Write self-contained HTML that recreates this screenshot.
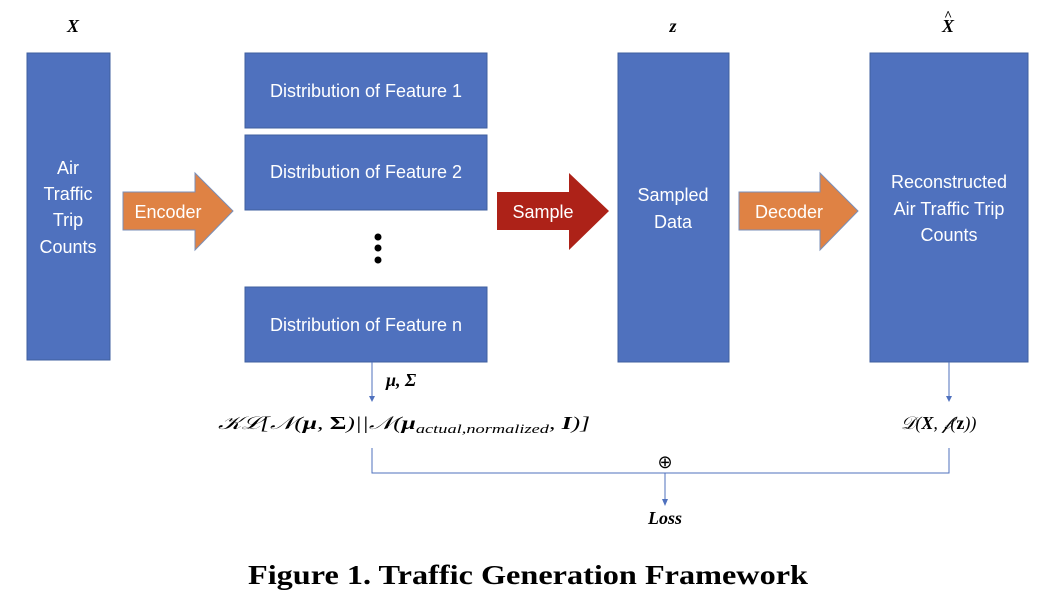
<!DOCTYPE html>
<html><head><meta charset="utf-8"><style>
html,body{margin:0;padding:0;background:#fff;width:1060px;height:616px;overflow:hidden}
svg{display:block}
.w{font-family:"Liberation Sans",sans-serif;font-size:18px;fill:#fff}
.m{font-family:"Liberation Serif",serif;font-size:18px;fill:#000}
</style></head><body>
<svg width="1060" height="616" viewBox="0 0 1060 616" xmlns="http://www.w3.org/2000/svg">
<g fill="#4f71be" stroke="#3f5f9f" stroke-width="1">
<rect x="27" y="53" width="83" height="307"/>
<rect x="245" y="53" width="242" height="75"/>
<rect x="245" y="135" width="242" height="75"/>
<rect x="245" y="287" width="242" height="75"/>
<rect x="618" y="53" width="111" height="309"/>
<rect x="870" y="53" width="158" height="309"/>
</g>
<polygon points="123,192 195,192 195,173 233,211 195,250 195,230 123,230" fill="#df8244" stroke="#7a8fb8" stroke-width="1"/>
<polygon points="497,192 569,192 569,173 609,211 569,250 569,230 497,230" fill="#ad2218"/>
<polygon points="739,192 820,192 820,173 858,211 820,250 820,230 739,230" fill="#df8244" stroke="#7a8fb8" stroke-width="1"/>
<circle cx="378" cy="237" r="3.5" fill="#000"/><circle cx="378" cy="248" r="3.5" fill="#000"/><circle cx="378" cy="260" r="3.5" fill="#000"/>
<g class="w" text-anchor="middle">
<text x="68" y="174">Air</text><text x="68" y="200">Traffic</text><text x="68" y="226">Trip</text><text x="68" y="253">Counts</text>
<text x="366" y="97">Distribution of Feature 1</text>
<text x="366" y="178">Distribution of Feature 2</text>
<text x="366" y="331">Distribution of Feature n</text>
<text x="168" y="218">Encoder</text>
<text x="543" y="218">Sample</text>
<text x="789" y="218">Decoder</text>
<text x="673" y="201">Sampled</text><text x="673" y="228">Data</text>
<text x="949" y="188">Reconstructed</text><text x="949" y="215">Air Traffic Trip</text><text x="949" y="241">Counts</text>
</g>
<g class="m" font-weight="bold" font-style="italic" text-anchor="middle">
<text x="73" y="32">X</text>
<text x="673" y="32">z</text>
<text x="948" y="32">X</text>
<text x="948" y="20" font-size="14">^</text>
</g>
<g stroke="#4f71be" stroke-width="1" fill="none">
<line x1="372" y1="362" x2="372" y2="398"/>
<line x1="949" y1="362" x2="949" y2="398"/>
<polyline points="372,448 372,473 949,473 949,448"/>
<line x1="665" y1="473" x2="665" y2="502"/>
</g>
<g fill="#4f71be">
<polygon points="369,396 375,396 372,402"/>
<polygon points="946,396 952,396 949,402"/>
<polygon points="662,499 668,499 665,506"/>
</g>
<text class="m" x="386" y="386" font-weight="bold" font-style="italic">μ, Σ</text>
<text class="m" x="218" y="429" textLength="372" lengthAdjust="spacingAndGlyphs" font-style="italic">𝒦ℒ[𝒩(<tspan font-weight="bold">μ</tspan>, <tspan font-weight="bold" font-style="normal">Σ</tspan>)||𝒩(<tspan font-weight="bold">μ</tspan><tspan font-size="13" dy="4">actual,normalized</tspan><tspan dy="-4">, </tspan><tspan font-weight="bold">I</tspan>)]</text>
<text class="m" x="901" y="429" font-style="italic">𝒟(<tspan font-weight="bold">X</tspan>, 𝒻(<tspan font-weight="bold" font-style="normal">z</tspan>))</text>
<text class="m" x="665" y="468" text-anchor="middle" font-size="20">⊕</text>
<text class="m" x="665" y="524" text-anchor="middle" font-weight="bold" font-style="italic">Loss</text>
<text x="528" y="584" text-anchor="middle" font-family="Liberation Serif,serif" font-weight="bold" font-size="27" textLength="560" lengthAdjust="spacingAndGlyphs">Figure 1. Traffic Generation Framework</text>
</svg>
</body></html>
